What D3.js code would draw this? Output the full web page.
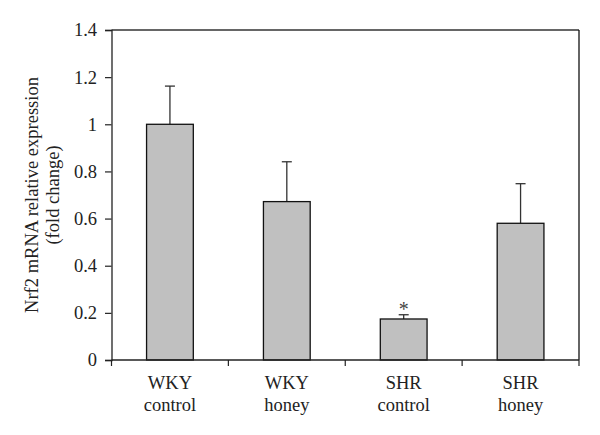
<!DOCTYPE html>
<html><head><meta charset="utf-8">
<script src="https://cdn.jsdelivr.net/npm/d3@7"></script>
<style>body{margin:0;background:#fff}svg{display:block}</style>
</head><body><svg id="c" width="600" height="435"></svg>
<script>
const categories = [["WKY","control"],["WKY","honey"],["SHR","control"],["SHR","honey"]];
const means = [1.0, 0.672, 0.174, 0.58];
const errors = [0.162, 0.169, 0.018, 0.168];
const significant = [false, false, true, false];
const yTicks = [0, 0.2, 0.4, 0.6, 0.8, 1, 1.2, 1.4];
const yTitle = ["Nrf2 mRNA relative expression", "(fold change)"];

const FONT = "'Liberation Serif', serif";
const FS = 18.5;
const svg = d3.select("#c");
const m = {l:111.5, r:21, t:30, b:75};
const W = 600, H = 435;
const x = d3.scaleBand().domain(d3.range(categories.length)).range([m.l, W - m.r]).paddingInner(0.6).paddingOuter(0.3);
const y = d3.scaleLinear().domain([0, 1.4]).range([H - m.b, m.t]);
const step = x.step();

svg.append("line").attr("x1", m.l).attr("x2", W - m.r).attr("y1", m.t).attr("y2", m.t).attr("stroke", "#333").attr("stroke-width", 1.3);
svg.append("line").attr("x1", W - m.r).attr("x2", W - m.r).attr("y1", m.t).attr("y2", H - m.b).attr("stroke", "#111").attr("stroke-width", 1.3);

const eb = svg.append("g").attr("stroke", "#333").attr("stroke-width", 1.3);
means.forEach((v, i) => {
  const cx = x(i) + x.bandwidth() / 2;
  eb.append("line").attr("x1", cx).attr("x2", cx).attr("y1", y(v)).attr("y2", y(v + errors[i]));
  eb.append("line").attr("x1", cx - 5).attr("x2", cx + 5).attr("y1", y(v + errors[i])).attr("y2", y(v + errors[i]));
});

svg.append("g").selectAll("rect").data(means).join("rect")
  .attr("x", (d, i) => x(i)).attr("width", x.bandwidth())
  .attr("y", d => y(d)).attr("height", d => y(0) - y(d))
  .attr("fill", "#c0c0c0").attr("stroke", "#111").attr("stroke-width", 1.3);

means.forEach((v, i) => {
  if (significant[i]) svg.append("text").attr("x", x(i) + x.bandwidth() / 2).attr("y", y(v + errors[i]) + 1)
    .attr("text-anchor", "middle").attr("font-family", FONT).attr("font-size", 20).attr("fill", "#444").text("*");
});

const ya = svg.append("g").attr("transform", `translate(${m.l},0)`)
  .call(d3.axisLeft(y).tickValues(yTicks).tickFormat(d3.format("~g")).tickSizeOuter(0).tickSize(6.5).tickPadding(8));
ya.attr("font-family", FONT).attr("font-size", FS);
ya.select(".domain").attr("stroke", "#222").attr("stroke-width", 1.3);
ya.selectAll(".tick line").attr("stroke", "#222").attr("stroke-width", 1.2);
ya.selectAll(".tick text").attr("fill", "#222");

const xa = svg.append("g").attr("transform", `translate(0,${H - m.b})`);
xa.append("line").attr("x1", m.l).attr("x2", W - m.r).attr("stroke", "#222").attr("stroke-width", 1.3);
d3.range(categories.length + 1).forEach(i => {
  const tx = m.l + i * step;
  xa.append("line").attr("x1", tx).attr("x2", tx).attr("y1", 0).attr("y2", 6).attr("stroke", "#222").attr("stroke-width", 1.2);
});
categories.forEach((c, i) => {
  const t = xa.append("text").attr("text-anchor", "middle").attr("font-family", FONT).attr("font-size", FS).attr("fill", "#222")
    .attr("x", x(i) + x.bandwidth() / 2);
  c.forEach((s, k) => t.append("tspan").attr("x", x(i) + x.bandwidth() / 2).attr("y", 29 + k * 22).text(s));
});

const yc = (m.t + H - m.b) / 2;
yTitle.forEach((s, k) => {
  svg.append("text").attr("transform", `translate(${38 + k * 21},${yc}) rotate(-90)`)
    .attr("text-anchor", "middle").attr("font-family", FONT).attr("font-size", FS).attr("fill", "#222").text(s);
});
</script></body></html>
